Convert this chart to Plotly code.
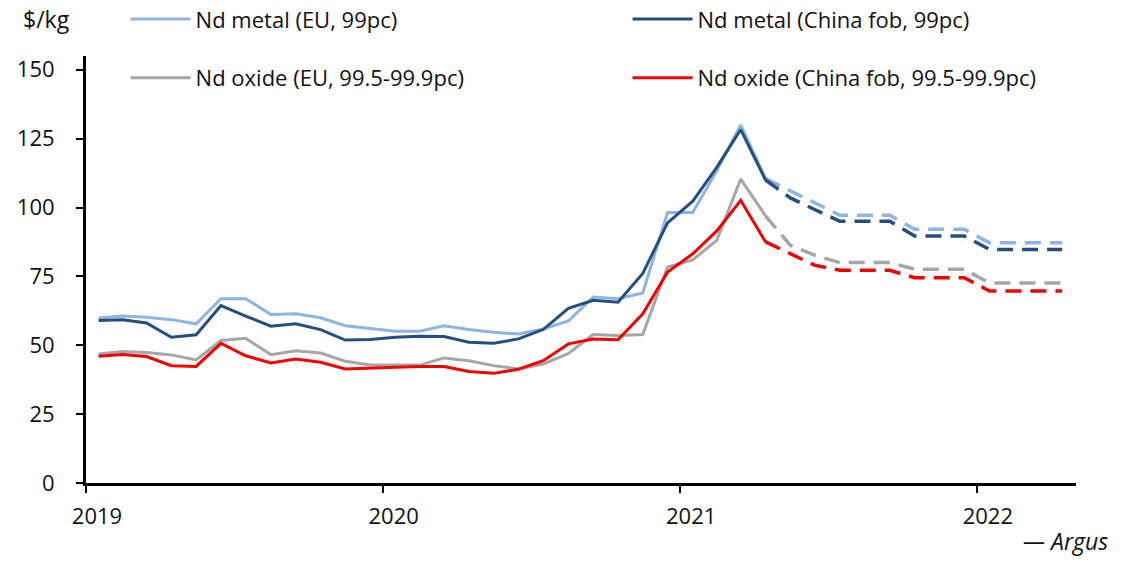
import plotly.graph_objects as go

months = [f"{y}-{m:02d}" for y in (2019, 2020, 2021) for m in range(1, 13)] + \
         ["2022-01", "2022-02", "2022-03", "2022-04"]
forecast_start = "2021-04"

series_names = [
    "Nd metal (EU, 99pc)",
    "Nd metal (China fob, 99pc)",
    "Nd oxide (EU, 99.5-99.9pc)",
    "Nd oxide (China fob, 99.5-99.9pc)",
]

nd_metal_eu = [
    59.9, 60.6, 60.2, 59.3, 57.8, 66.9, 66.9, 61.2, 61.4, 60.0, 57.1, 56.2,
    55.1, 55.1, 57.1, 55.7, 54.7, 54.1, 55.9, 58.8, 67.5, 66.9, 69.0, 98.2,
    98.2, 113.3, 130.0, 110.5, 106.0, 101.6, 97.2, 97.2, 97.2, 92.1, 92.1, 92.1,
    87.2, 87.2, 87.2, 87.2,
]
nd_metal_china = [
    59.0, 59.3, 58.1, 52.9, 53.8, 64.4, 60.6, 56.9, 57.8, 55.7, 51.9, 52.1,
    52.9, 53.3, 53.2, 51.1, 50.7, 52.3, 55.7, 63.4, 66.3, 65.6, 76.1, 94.4,
    102.3, 114.6, 128.3, 110.0, 103.5, 99.2, 95.0, 95.0, 95.0, 89.7, 89.7, 89.7,
    84.8, 84.8, 84.8, 84.8,
]
nd_oxide_eu = [
    46.8, 47.7, 47.4, 46.5, 44.7, 51.7, 52.5, 46.6, 48.0, 47.2, 44.2, 42.8,
    42.8, 42.8, 45.4, 44.4, 42.6, 41.4, 43.2, 47.0, 53.9, 53.5, 53.9, 78.4,
    81.0, 88.1, 110.3, 97.0, 86.3, 82.6, 80.0, 80.0, 80.0, 77.6, 77.6, 77.6,
    72.6, 72.6, 72.6, 72.6,
]
nd_oxide_china = [
    46.0, 46.6, 45.9, 42.6, 42.3, 50.7, 46.2, 43.6, 45.0, 43.8, 41.4, 41.6,
    42.0, 42.3, 42.3, 40.5, 39.8, 41.3, 44.4, 50.5, 52.3, 52.0, 61.4, 76.6,
    83.2, 91.5, 102.6, 87.5, 83.3, 79.0, 77.2, 77.2, 77.2, 74.5, 74.5, 74.5,
    69.7, 69.7, 69.7, 69.7,
]

year_ticks = ["2019-01-01", "2020-01-01", "2021-01-01", "2022-01-01"]
year_labels = ["2019", "2020", "2021", "2022"]
y_ticks = [0, 25, 50, 75, 100, 125, 150]

colors = ["#8EB4E3", "#254E7F", "#A6A6A6", "#F20000"]
legend_ids = ["legend", "legend2", "legend3", "legend4"]
all_values = [nd_metal_eu, nd_metal_china, nd_oxide_eu, nd_oxide_china]

FONT = "Open Sans"
TXT = "#111111"
k = months.index(forecast_start)

fig = go.Figure()
for name, vals, col, lg in zip(series_names, all_values, colors, legend_ids):
    fig.add_trace(go.Scatter(
        x=months[:k + 1], y=vals[:k + 1], mode="lines", name=name,
        xperiod="M1", xperiodalignment="middle",
        line=dict(color=col, width=3), legend=lg, legendgroup=name,
    ))
    fig.add_trace(go.Scatter(
        x=months[k:], y=vals[k:], mode="lines", name=name,
        xperiod="M1", xperiodalignment="middle",
        line=dict(color=col, width=3.5, dash="16px,9px"), legend=lg,
        legendgroup=name, showlegend=False,
    ))

legend_common = dict(
    orientation="h", xanchor="left", yanchor="middle",
    font=dict(family=FONT, size=22, color=TXT),
    bgcolor="rgba(0,0,0,0)", itemwidth=60,
)
col_x = [0.040, 0.547]
row_y = [1.086, 0.9485]

fig.update_layout(
    width=1124, height=561,
    margin=dict(l=86, r=48, t=56, b=78, autoexpand=False),
    paper_bgcolor="white", plot_bgcolor="white",
    font=dict(family=FONT, size=22, color=TXT),
    legend=dict(x=col_x[0], y=row_y[0], **legend_common),
    legend2=dict(x=col_x[1], y=row_y[0], **legend_common),
    legend3=dict(x=col_x[0], y=row_y[1], **legend_common),
    legend4=dict(x=col_x[1], y=row_y[1], **legend_common),
    xaxis=dict(
        type="date", range=["2019-01-01", "2022-05-03"],
        tickvals=year_ticks, ticktext=year_labels,
        showgrid=False, zeroline=False, automargin=False,
        showline=True, linecolor="black", linewidth=3,
        ticks="outside", ticklen=7, tickwidth=2, tickcolor="black",
        ticklabelshift=11, ticklabelstandoff=5,
        tickfont=dict(family=FONT, size=22, color=TXT),
    ),
    yaxis=dict(
        range=[0, 155], tickvals=y_ticks,
        showgrid=False, zeroline=False, automargin=False,
        showline=True, linecolor="black", linewidth=3,
        ticks="outside", ticklen=7, tickwidth=2, tickcolor="black",
        ticklabelstandoff=17,
        tickfont=dict(family=FONT, size=22, color=TXT),
    ),
    annotations=[
        dict(text="$/kg", xref="paper", yref="paper", x=-0.066, y=1.086,
             xanchor="left", yanchor="middle", showarrow=False,
             font=dict(family=FONT, size=23, color=TXT)),
        dict(text="<i>— Argus</i>", xref="paper", yref="paper", x=1.034, y=-0.136,
             xanchor="right", yanchor="middle", showarrow=False,
             font=dict(family=FONT, size=23, color=TXT)),
    ],
)

fig.write_html("out.html", config={"displayModeBar": False},
               post_script="document.body.style.margin='0px';")
